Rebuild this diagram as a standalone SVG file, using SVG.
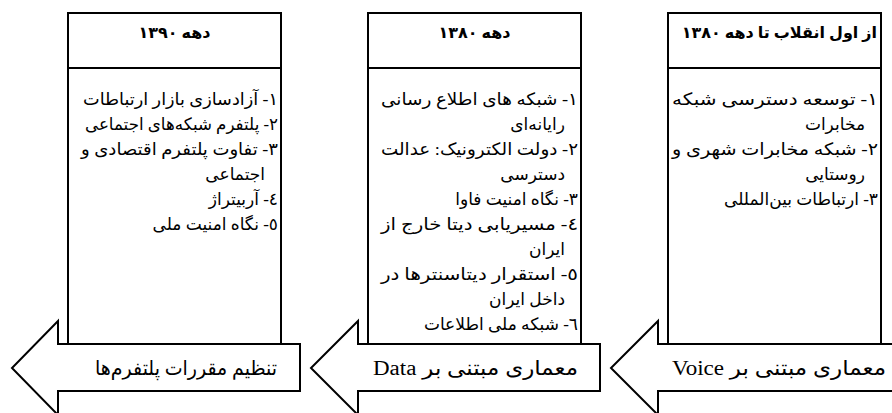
<svg xmlns="http://www.w3.org/2000/svg" width="892" height="413" viewBox="0 0 892 413">
<style>
.box{fill:#fff;stroke:#000;stroke-width:2}
.div{stroke:#000;stroke-width:2}
.arrow{fill:#fff;stroke:#000;stroke-width:2;stroke-linejoin:miter}
text{font-family:'Liberation Serif','DejaVu Sans',serif;fill:#000;direction:rtl}
.hdr{font-weight:bold;font-size:16px}
.bd{font-size:17px}
.lbl{font-size:20px}
</style>
<rect width="892" height="413" fill="#fff"/>
<g id="col-1390">
<rect class="box" x="68" y="13" width="213" height="345"/>
<line class="div" x1="68" y1="68" x2="281" y2="68"/>
<text class="hdr" x="174.5" y="38" text-anchor="middle">دهه ١٣٩٠</text>
<g class="bd" text-anchor="start">
<text x="278" y="105" textLength="195" lengthAdjust="spacingAndGlyphs">١- آزادسازی بازار ارتباطات</text>
<text x="278" y="130" textLength="193" lengthAdjust="spacingAndGlyphs">٢- پلتفرم شبکه‌های اجتماعی</text>
<text x="278" y="155" textLength="197" lengthAdjust="spacingAndGlyphs">٣- تفاوت پلتفرم اقتصادی و</text>
<text x="265" y="180">اجتماعی</text>
<text x="278" y="205">٤- آربیتراژ</text>
<text x="278" y="230">٥- نگاه امنیت ملی</text>
</g>
</g>
<g id="col-1380">
<rect class="box" x="368" y="13" width="213" height="345"/>
<line class="div" x1="368" y1="68" x2="581" y2="68"/>
<text class="hdr" x="474.5" y="38" text-anchor="middle">دهه ١٣٨٠</text>
<g class="bd" text-anchor="start">
<text x="578" y="105" textLength="197" lengthAdjust="spacingAndGlyphs">١- شبکه های اطلاع رسانی</text>
<text x="565" y="130">رایانه‌ای</text>
<text x="578" y="155" textLength="197" lengthAdjust="spacingAndGlyphs">٢- دولت الکترونیک: عدالت</text>
<text x="565" y="180">دسترسی</text>
<text x="578" y="205">٣- نگاه امنیت فاوا</text>
<text x="578" y="230" textLength="197" lengthAdjust="spacingAndGlyphs">٤- مسیریابی دیتا خارج از</text>
<text x="565" y="255">ایران</text>
<text x="578" y="280" textLength="197" lengthAdjust="spacingAndGlyphs">٥- استقرار دیتاسنترها در</text>
<text x="565" y="305">داخل ایران</text>
<text x="578" y="330">٦- شبکه ملی اطلاعات</text>
</g>
</g>
<g id="col-revolution">
<rect class="box" x="668" y="13" width="213" height="345"/>
<line class="div" x1="668" y1="68" x2="881" y2="68"/>
<text class="hdr" x="877" y="38" text-anchor="start">از اول انقلاب تا دهه ١٣٨٠</text>
<g class="bd" text-anchor="start">
<text x="878" y="105" textLength="206" lengthAdjust="spacingAndGlyphs">١- توسعه دسترسی شبکه</text>
<text x="865" y="130">مخابرات</text>
<text x="878" y="155" textLength="206" lengthAdjust="spacingAndGlyphs">٢- شبکه مخابرات شهری و</text>
<text x="865" y="180">روستایی</text>
<text x="878" y="205">٣- ارتباطات بین‌المللی</text>
</g>
</g>
<g id="connectors">
<g id="arrow-platform">
<path class="arrow" d="M300,344 H58 V321 L12,368 L58,415 V391 H300 Z"/>
<text class="lbl" x="277" y="375" text-anchor="start" textLength="182" lengthAdjust="spacingAndGlyphs">تنظیم مقررات پلتفرم‌ها</text>
</g>
<g id="arrow-data">
<path class="arrow" d="M600,344 H358 V321 L311,368 L358,415 V391 H600 Z"/>
<text class="lbl" x="578" y="375" text-anchor="start" textLength="205" lengthAdjust="spacingAndGlyphs">معماری مبتنی بر Data</text>
</g>
<g id="arrow-voice">
<path class="arrow" d="M900,344 H658 V321 L611,368 L658,415 V391 H900 Z"/>
<text class="lbl" x="886" y="375" text-anchor="start" textLength="214" lengthAdjust="spacingAndGlyphs">معماری مبتنی بر Voice</text>
</g>
</g>
</svg>
